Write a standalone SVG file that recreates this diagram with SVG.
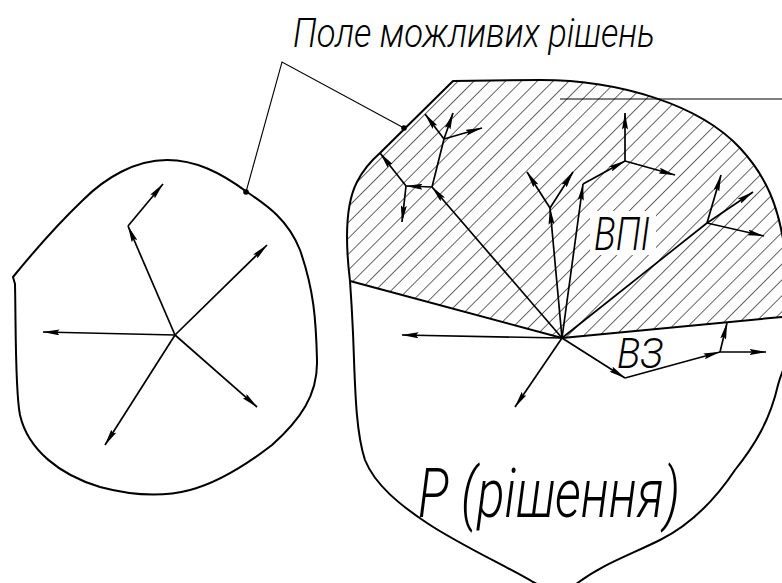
<svg xmlns="http://www.w3.org/2000/svg" width="782" height="583" viewBox="0 0 782 583">
  <style>
    .outline { fill: none; stroke: #000; stroke-width: 2; stroke-linejoin: round; }
    .arrow { fill: none; stroke: #000; stroke-width: 1.7; marker-end: url(#ah); }
    .line { fill: none; stroke: #000; stroke-width: 1.7; }
    .leader { fill: none; stroke: #000; stroke-width: 1.1; }
    .dot { fill: #000; }
    .lbl { font-family: Roboto, "Liberation Sans", sans-serif; font-style: italic; font-weight: 300; fill: #000; }
  </style>
  <defs>
    <marker id="ah" viewBox="0 0 17 6" refX="16.5" refY="3" markerWidth="17" markerHeight="6" markerUnits="userSpaceOnUse" orient="auto">
      <path d="M0,0 L17,3 L0,6 L2.5,3 Z" fill="#000"/>
    </marker>
    <pattern id="hatch" patternUnits="userSpaceOnUse" width="11.2" height="11.2" patternTransform="rotate(45)">
      <line x1="0" y1="-1" x2="0" y2="12.2" stroke="#000" stroke-width="1.2"/>
    </pattern>
  </defs>
  <rect width="782" height="583" fill="#fff"/>

  <g id="field-left">
    <path class="outline" d="M13,277 L15,284 C16,330 15,390 20,415 C28,450 60,475 100,487 C130,495 160,498 190,490 C220,482 250,462 272,445 C300,420 318,395 317,360 C316,320 314,290 300,250 C288,220 268,206 247,192 C220,172 195,160 167,160 C135,160 105,178 83,200 C60,222 35,250 13,277 Z"/>
  </g>

  <g id="region-vpi">
    <path fill="url(#hatch)" stroke="none" d="M350,281 C345,240 345,205 357,182 C363,170 372,160 380,153 L453,81 L540,80 C620,80 700,105 740,148 C765,175 780,205 786,260 L792,316 L562,338 Z"/>
    <rect x="590" y="211" width="66" height="44" fill="#fff"/>
    <path class="outline" d="M350,281 L562,338 L792,316"/>
  </g>

  <g id="field-right">
    <path class="outline" d="M350,281 C345,240 345,205 357,182 C363,170 372,160 380,153 L453,81 L540,80 C620,80 700,105 740,148 C765,175 780,205 786,260 L800,300 L792,345 C788,360 782,370 778,385 C770,420 755,445 735,470 C715,500 690,525 660,540 C630,555 600,565 575,585 L553,592 L533,582 C510,568 460,545 427,523 C400,505 375,485 365,460 C355,430 355,380 353,333 C352,310 351,295 350,281 Z"/>
  </g>

  <g id="connectors">
    <polyline class="leader" points="246,192 282,62 404,128"/>
    <circle class="dot" cx="246" cy="192" r="2.8"/>
    <circle class="dot" cx="404" cy="128" r="2.8"/>
    <line class="leader" x1="560" y1="99" x2="782" y2="99"/>

    <line class="arrow" x1="175" y1="335" x2="43" y2="332"/>
    <line class="arrow" x1="175" y1="335" x2="267" y2="245"/>
    <line class="arrow" x1="175" y1="335" x2="257" y2="407"/>
    <line class="arrow" x1="175" y1="335" x2="105" y2="445"/>
    <line class="arrow" x1="175" y1="335" x2="128" y2="226"/>
    <line class="arrow" x1="128" y1="226" x2="163" y2="184"/>

    <line class="arrow" x1="562" y1="338" x2="402" y2="335"/>
    <line class="arrow" x1="562" y1="338" x2="515" y2="407"/>
    <line class="arrow" x1="562" y1="338" x2="625" y2="378"/>
    <line class="arrow" x1="625" y1="378" x2="720" y2="352"/>
    <line class="arrow" x1="720" y1="352" x2="727" y2="323"/>
    <line class="arrow" x1="720" y1="352" x2="766" y2="352"/>

    <line class="arrow" x1="562" y1="338" x2="432" y2="187"/>
    <line class="arrow" x1="432" y1="187" x2="406" y2="186"/>
    <line class="arrow" x1="406" y1="186" x2="380" y2="153"/>
    <line class="arrow" x1="406" y1="186" x2="402" y2="222"/>
    <line class="line" x1="432" y1="187" x2="444" y2="139"/>
    <line class="arrow" x1="444" y1="139" x2="425" y2="114"/>
    <line class="arrow" x1="444" y1="139" x2="453" y2="113"/>
    <line class="arrow" x1="444" y1="139" x2="482" y2="128"/>

    <line class="arrow" x1="562" y1="338" x2="550" y2="208"/>
    <line class="arrow" x1="550" y1="208" x2="527" y2="172"/>
    <line class="arrow" x1="550" y1="208" x2="573" y2="172"/>

    <line class="arrow" x1="562" y1="338" x2="583" y2="184"/>
    <line class="arrow" x1="583" y1="184" x2="625" y2="161"/>
    <line class="arrow" x1="625" y1="161" x2="625" y2="113"/>
    <line class="arrow" x1="625" y1="161" x2="675" y2="175"/>

    <line class="line" x1="562" y1="338" x2="707" y2="223"/>
    <line class="arrow" x1="707" y1="223" x2="721" y2="175"/>
    <line class="arrow" x1="707" y1="223" x2="753" y2="192"/>
    <line class="arrow" x1="707" y1="223" x2="764" y2="236"/>
  </g>

  <g id="labels">
    <text class="lbl" x="293" y="47" font-size="40" textLength="362" lengthAdjust="spacingAndGlyphs">Поле можливих рішень</text>
    <text class="lbl" x="594" y="250" font-size="46" textLength="56" lengthAdjust="spacingAndGlyphs">ВПІ</text>
    <text class="lbl" x="617" y="368" font-size="42" textLength="46" lengthAdjust="spacingAndGlyphs">ВЗ</text>
    <text class="lbl" x="418" y="517" font-size="68" textLength="262" lengthAdjust="spacingAndGlyphs">Р (рішення)</text>
  </g>
</svg>
